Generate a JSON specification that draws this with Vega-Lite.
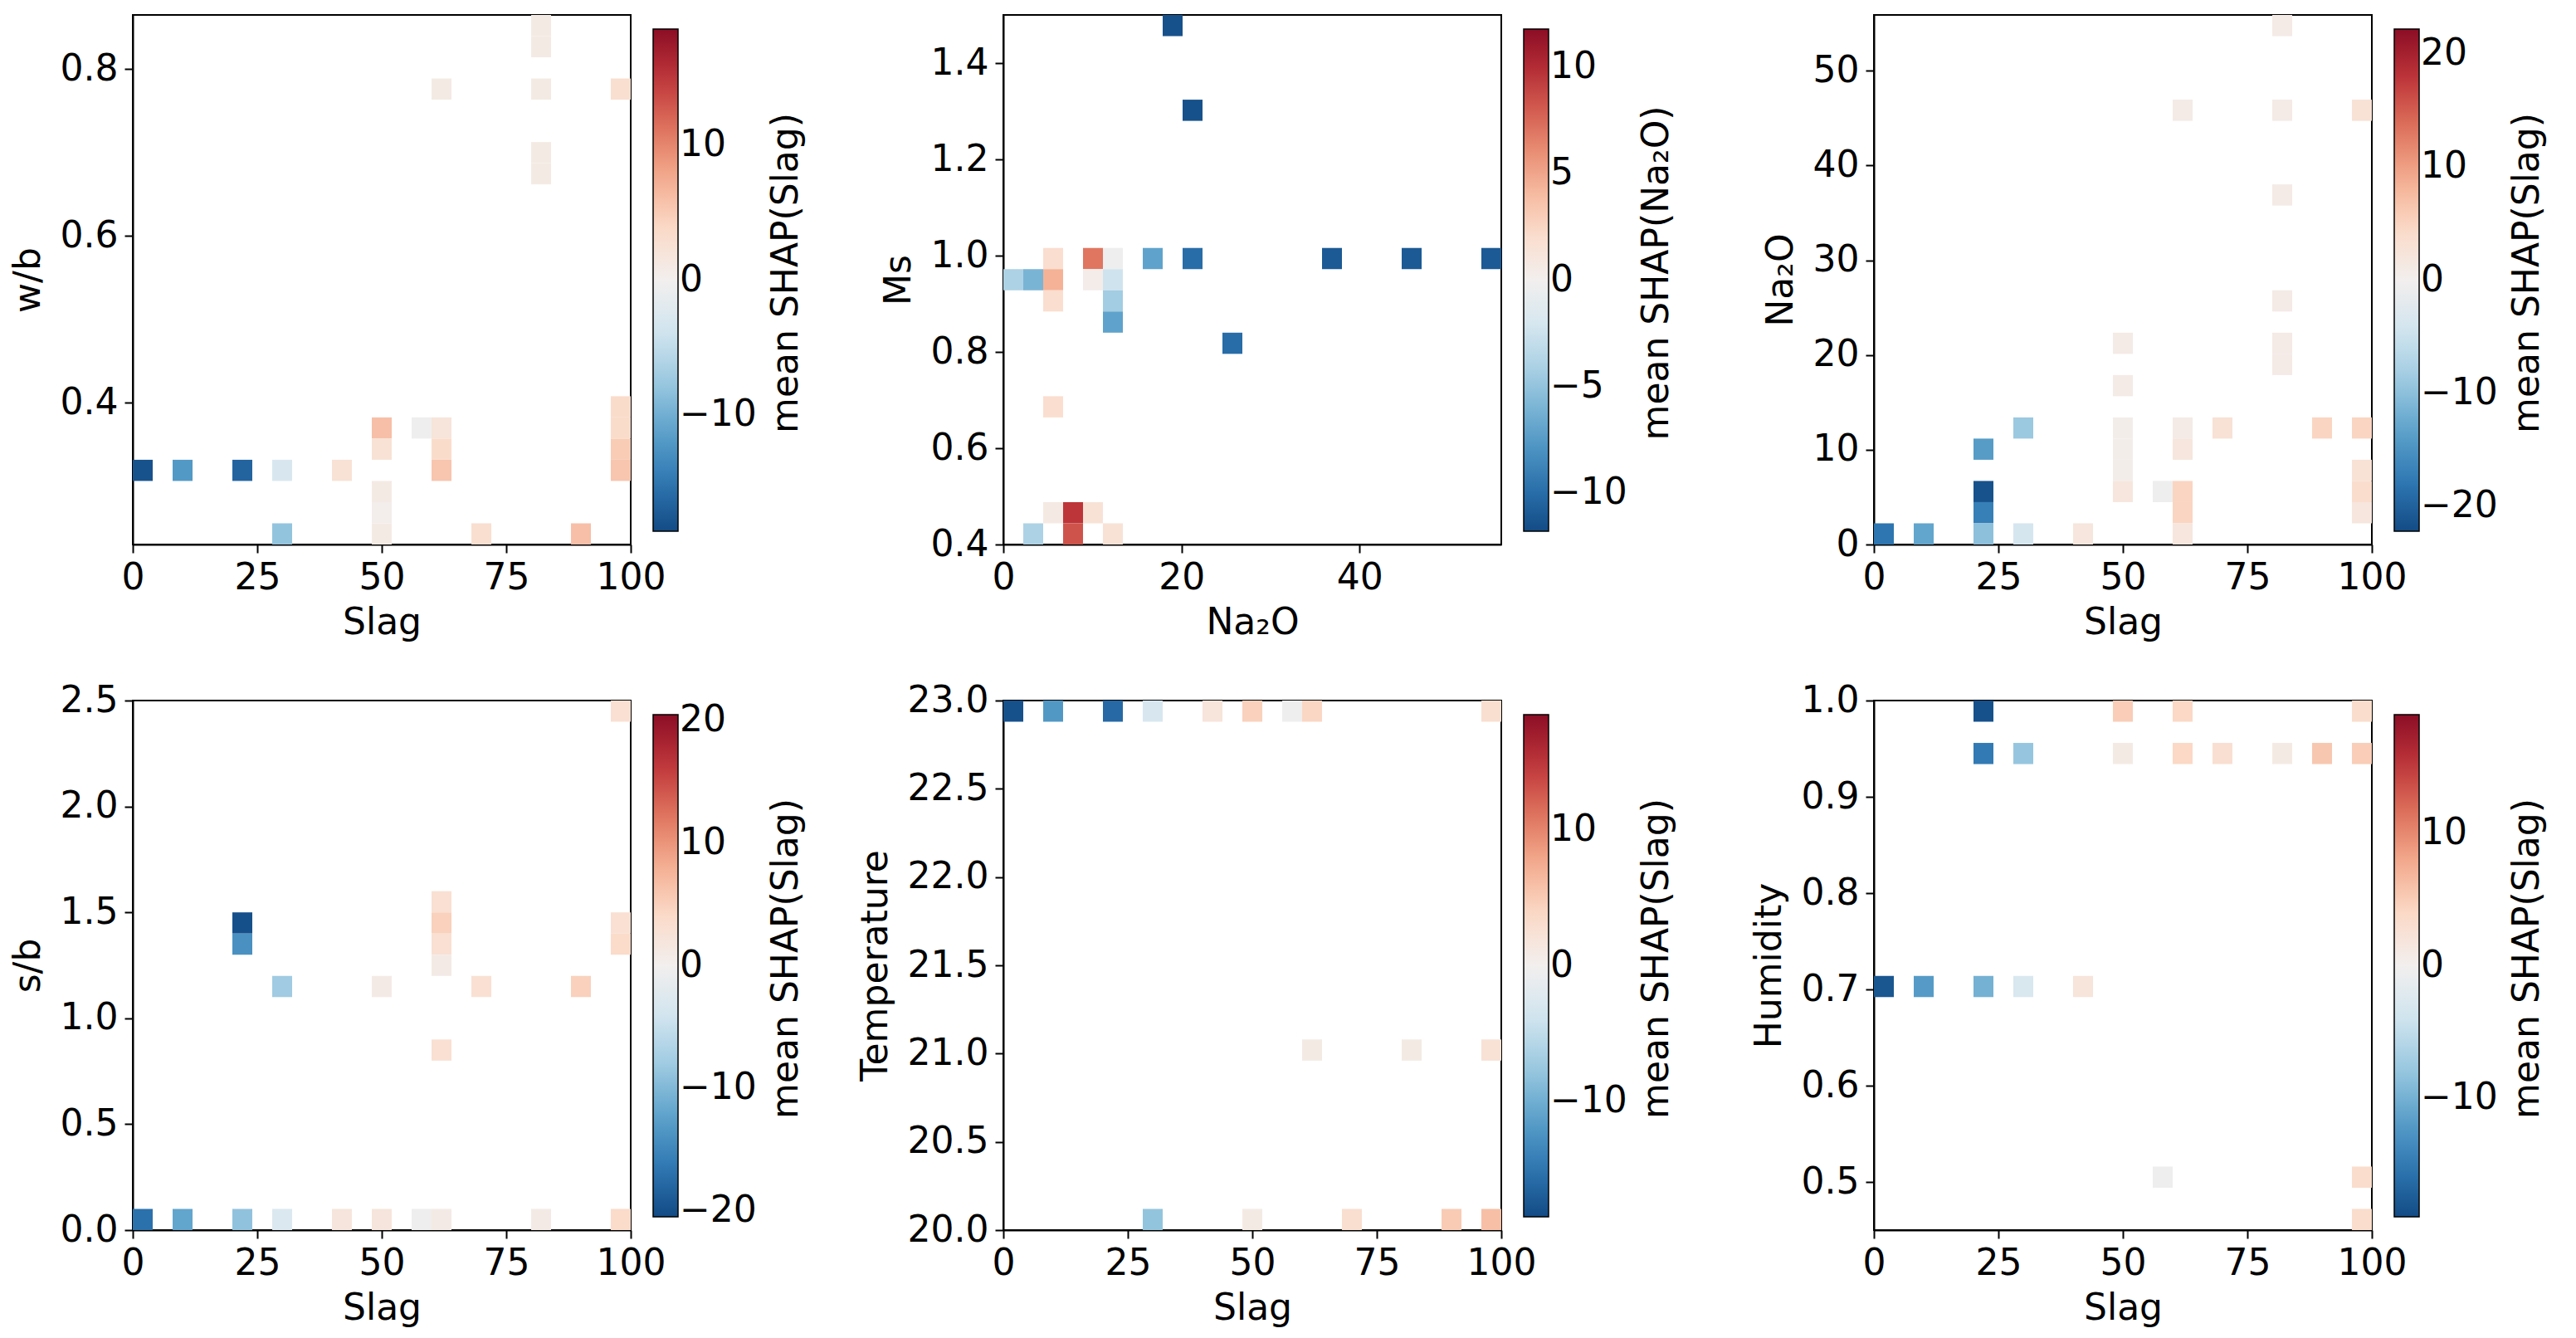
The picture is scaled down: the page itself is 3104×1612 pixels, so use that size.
{
  "$schema": "https://vega.github.io/schema/vega-lite/v6.json",
  "padding": {"left": 11, "top": 17, "right": 10, "bottom": 5},
  "background": "white",
  "bounds": "flush",
  "columns": 3,
  "spacing": {"row": 188, "column": 449},
  "resolve": {"scale": {"color": "independent"}, "legend": {"color": "independent"}},
  "data": {
    "values": [
      {"p": "wb", "x": 0, "x2": 4, "y": 0.3062, "y2": 0.3316, "v": -18},
      {"p": "wb", "x": 8, "x2": 12, "y": 0.3062, "y2": 0.3316, "v": -12},
      {"p": "wb", "x": 20, "x2": 24, "y": 0.3062, "y2": 0.3316, "v": -16.5},
      {"p": "wb", "x": 28, "x2": 32, "y": 0.3062, "y2": 0.3316, "v": -3},
      {"p": "wb", "x": 40, "x2": 44, "y": 0.3062, "y2": 0.3316, "v": 2.5},
      {"p": "wb", "x": 60, "x2": 64, "y": 0.3062, "y2": 0.3316, "v": 5.5},
      {"p": "wb", "x": 96, "x2": 100, "y": 0.3062, "y2": 0.3316, "v": 5.5},
      {"p": "wb", "x": 96, "x2": 100, "y": 0.3316, "y2": 0.357, "v": 5},
      {"p": "wb", "x": 96, "x2": 100, "y": 0.357, "y2": 0.3824, "v": 3.5},
      {"p": "wb", "x": 96, "x2": 100, "y": 0.3824, "y2": 0.4078, "v": 3.5},
      {"p": "wb", "x": 48, "x2": 52, "y": 0.357, "y2": 0.3824, "v": 6},
      {"p": "wb", "x": 48, "x2": 52, "y": 0.3316, "y2": 0.357, "v": 2.5},
      {"p": "wb", "x": 48, "x2": 52, "y": 0.2808, "y2": 0.3062, "v": 1},
      {"p": "wb", "x": 48, "x2": 52, "y": 0.2554, "y2": 0.2808, "v": 0.3},
      {"p": "wb", "x": 48, "x2": 52, "y": 0.23, "y2": 0.2554, "v": 1},
      {"p": "wb", "x": 56, "x2": 60, "y": 0.357, "y2": 0.3824, "v": -0.5},
      {"p": "wb", "x": 60, "x2": 64, "y": 0.357, "y2": 0.3824, "v": 2},
      {"p": "wb", "x": 60, "x2": 64, "y": 0.3316, "y2": 0.357, "v": 3.5},
      {"p": "wb", "x": 28, "x2": 32, "y": 0.23, "y2": 0.2554, "v": -8},
      {"p": "wb", "x": 68, "x2": 72, "y": 0.23, "y2": 0.2554, "v": 3},
      {"p": "wb", "x": 88, "x2": 92, "y": 0.23, "y2": 0.2554, "v": 6},
      {"p": "wb", "x": 80, "x2": 84, "y": 0.8396, "y2": 0.865, "v": 1},
      {"p": "wb", "x": 80, "x2": 84, "y": 0.8142, "y2": 0.8396, "v": 1},
      {"p": "wb", "x": 60, "x2": 64, "y": 0.7634, "y2": 0.7888, "v": 1},
      {"p": "wb", "x": 80, "x2": 84, "y": 0.7634, "y2": 0.7888, "v": 1},
      {"p": "wb", "x": 96, "x2": 100, "y": 0.7634, "y2": 0.7888, "v": 3},
      {"p": "wb", "x": 80, "x2": 84, "y": 0.6872, "y2": 0.7126, "v": 1},
      {"p": "wb", "x": 80, "x2": 84, "y": 0.6618, "y2": 0.6872, "v": 1},

      {"p": "ms", "x": 17.888, "x2": 20.124, "y": 1.456, "y2": 1.5, "v": -11.5},
      {"p": "ms", "x": 20.124, "x2": 22.36, "y": 1.28, "y2": 1.324, "v": -11.5},
      {"p": "ms", "x": 4.472, "x2": 6.708, "y": 0.972, "y2": 1.016, "v": 2},
      {"p": "ms", "x": 8.944, "x2": 11.18, "y": 0.972, "y2": 1.016, "v": 7},
      {"p": "ms", "x": 11.18, "x2": 13.416, "y": 0.972, "y2": 1.016, "v": -0.3},
      {"p": "ms", "x": 15.652, "x2": 17.888, "y": 0.972, "y2": 1.016, "v": -7},
      {"p": "ms", "x": 20.124, "x2": 22.36, "y": 0.972, "y2": 1.016, "v": -10},
      {"p": "ms", "x": 35.776, "x2": 38.012, "y": 0.972, "y2": 1.016, "v": -11},
      {"p": "ms", "x": 44.72, "x2": 46.956, "y": 0.972, "y2": 1.016, "v": -11},
      {"p": "ms", "x": 53.664, "x2": 55.9, "y": 0.972, "y2": 1.016, "v": -11},
      {"p": "ms", "x": 0, "x2": 2.236, "y": 0.928, "y2": 0.972, "v": -4},
      {"p": "ms", "x": 2.236, "x2": 4.472, "y": 0.928, "y2": 0.972, "v": -6},
      {"p": "ms", "x": 4.472, "x2": 6.708, "y": 0.928, "y2": 0.972, "v": 4.5},
      {"p": "ms", "x": 8.944, "x2": 11.18, "y": 0.928, "y2": 0.972, "v": 0.3},
      {"p": "ms", "x": 11.18, "x2": 13.416, "y": 0.928, "y2": 0.972, "v": -2.5},
      {"p": "ms", "x": 4.472, "x2": 6.708, "y": 0.884, "y2": 0.928, "v": 2},
      {"p": "ms", "x": 11.18, "x2": 13.416, "y": 0.884, "y2": 0.928, "v": -4.5},
      {"p": "ms", "x": 11.18, "x2": 13.416, "y": 0.84, "y2": 0.884, "v": -7},
      {"p": "ms", "x": 24.596, "x2": 26.832, "y": 0.796, "y2": 0.84, "v": -10},
      {"p": "ms", "x": 4.472, "x2": 6.708, "y": 0.664, "y2": 0.708, "v": 2},
      {"p": "ms", "x": 4.472, "x2": 6.708, "y": 0.444, "y2": 0.488, "v": 0.7},
      {"p": "ms", "x": 6.708, "x2": 8.944, "y": 0.444, "y2": 0.488, "v": 9.5},
      {"p": "ms", "x": 8.944, "x2": 11.18, "y": 0.444, "y2": 0.488, "v": 1.5},
      {"p": "ms", "x": 2.236, "x2": 4.472, "y": 0.4, "y2": 0.444, "v": -4},
      {"p": "ms", "x": 6.708, "x2": 8.944, "y": 0.4, "y2": 0.444, "v": 8.3},
      {"p": "ms", "x": 11.18, "x2": 13.416, "y": 0.4, "y2": 0.444, "v": 1.5},

      {"p": "na", "x": 80, "x2": 84, "y": 53.664, "y2": 55.9, "v": 1},
      {"p": "na", "x": 60, "x2": 64, "y": 44.72, "y2": 46.956, "v": 1},
      {"p": "na", "x": 80, "x2": 84, "y": 44.72, "y2": 46.956, "v": 1},
      {"p": "na", "x": 96, "x2": 100, "y": 44.72, "y2": 46.956, "v": 3},
      {"p": "na", "x": 80, "x2": 84, "y": 35.776, "y2": 38.012, "v": 1},
      {"p": "na", "x": 80, "x2": 84, "y": 24.596, "y2": 26.832, "v": 1},
      {"p": "na", "x": 80, "x2": 84, "y": 20.124, "y2": 22.36, "v": 1},
      {"p": "na", "x": 48, "x2": 52, "y": 20.124, "y2": 22.36, "v": 1},
      {"p": "na", "x": 80, "x2": 84, "y": 17.888, "y2": 20.124, "v": 1},
      {"p": "na", "x": 48, "x2": 52, "y": 15.652, "y2": 17.888, "v": 1},
      {"p": "na", "x": 28, "x2": 32, "y": 11.18, "y2": 13.416, "v": -9},
      {"p": "na", "x": 48, "x2": 52, "y": 11.18, "y2": 13.416, "v": 0.5},
      {"p": "na", "x": 60, "x2": 64, "y": 11.18, "y2": 13.416, "v": 1},
      {"p": "na", "x": 68, "x2": 72, "y": 11.18, "y2": 13.416, "v": 3},
      {"p": "na", "x": 88, "x2": 92, "y": 11.18, "y2": 13.416, "v": 5},
      {"p": "na", "x": 96, "x2": 100, "y": 11.18, "y2": 13.416, "v": 5},
      {"p": "na", "x": 20, "x2": 24, "y": 8.944, "y2": 11.18, "v": -14},
      {"p": "na", "x": 48, "x2": 52, "y": 8.944, "y2": 11.18, "v": 0.5},
      {"p": "na", "x": 60, "x2": 64, "y": 8.944, "y2": 11.18, "v": 2},
      {"p": "na", "x": 48, "x2": 52, "y": 6.708, "y2": 8.944, "v": 0.5},
      {"p": "na", "x": 96, "x2": 100, "y": 6.708, "y2": 8.944, "v": 3},
      {"p": "na", "x": 20, "x2": 24, "y": 4.472, "y2": 6.708, "v": -21.5},
      {"p": "na", "x": 48, "x2": 52, "y": 4.472, "y2": 6.708, "v": 2},
      {"p": "na", "x": 56, "x2": 60, "y": 4.472, "y2": 6.708, "v": -0.5},
      {"p": "na", "x": 60, "x2": 64, "y": 4.472, "y2": 6.708, "v": 5},
      {"p": "na", "x": 96, "x2": 100, "y": 4.472, "y2": 6.708, "v": 4},
      {"p": "na", "x": 20, "x2": 24, "y": 2.236, "y2": 4.472, "v": -17},
      {"p": "na", "x": 60, "x2": 64, "y": 2.236, "y2": 4.472, "v": 5},
      {"p": "na", "x": 96, "x2": 100, "y": 2.236, "y2": 4.472, "v": 2},
      {"p": "na", "x": 0, "x2": 4, "y": 0, "y2": 2.236, "v": -18},
      {"p": "na", "x": 8, "x2": 12, "y": 0, "y2": 2.236, "v": -13},
      {"p": "na", "x": 20, "x2": 24, "y": 0, "y2": 2.236, "v": -10},
      {"p": "na", "x": 28, "x2": 32, "y": 0, "y2": 2.236, "v": -4},
      {"p": "na", "x": 40, "x2": 44, "y": 0, "y2": 2.236, "v": 2},
      {"p": "na", "x": 60, "x2": 64, "y": 0, "y2": 2.236, "v": 2},

      {"p": "sb", "x": 96, "x2": 100, "y": 2.4, "y2": 2.5, "v": 3},
      {"p": "sb", "x": 20, "x2": 24, "y": 1.4, "y2": 1.5, "v": -20},
      {"p": "sb", "x": 60, "x2": 64, "y": 1.4, "y2": 1.5, "v": 5},
      {"p": "sb", "x": 96, "x2": 100, "y": 1.4, "y2": 1.5, "v": 3},
      {"p": "sb", "x": 20, "x2": 24, "y": 1.3, "y2": 1.4, "v": -14},
      {"p": "sb", "x": 60, "x2": 64, "y": 1.3, "y2": 1.4, "v": 3},
      {"p": "sb", "x": 96, "x2": 100, "y": 1.3, "y2": 1.4, "v": 4},
      {"p": "sb", "x": 60, "x2": 64, "y": 1.5, "y2": 1.6, "v": 3},
      {"p": "sb", "x": 60, "x2": 64, "y": 1.2, "y2": 1.3, "v": 1},
      {"p": "sb", "x": 60, "x2": 64, "y": 0.8, "y2": 0.9, "v": 3},
      {"p": "sb", "x": 28, "x2": 32, "y": 1.1, "y2": 1.2, "v": -8},
      {"p": "sb", "x": 48, "x2": 52, "y": 1.1, "y2": 1.2, "v": 1},
      {"p": "sb", "x": 68, "x2": 72, "y": 1.1, "y2": 1.2, "v": 3},
      {"p": "sb", "x": 88, "x2": 92, "y": 1.1, "y2": 1.2, "v": 5},
      {"p": "sb", "x": 0, "x2": 4, "y": 0, "y2": 0.1, "v": -17},
      {"p": "sb", "x": 8, "x2": 12, "y": 0, "y2": 0.1, "v": -12},
      {"p": "sb", "x": 20, "x2": 24, "y": 0, "y2": 0.1, "v": -9},
      {"p": "sb", "x": 28, "x2": 32, "y": 0, "y2": 0.1, "v": -3},
      {"p": "sb", "x": 40, "x2": 44, "y": 0, "y2": 0.1, "v": 2},
      {"p": "sb", "x": 48, "x2": 52, "y": 0, "y2": 0.1, "v": 2},
      {"p": "sb", "x": 56, "x2": 60, "y": 0, "y2": 0.1, "v": -0.5},
      {"p": "sb", "x": 60, "x2": 64, "y": 0, "y2": 0.1, "v": 1},
      {"p": "sb", "x": 80, "x2": 84, "y": 0, "y2": 0.1, "v": 1},
      {"p": "sb", "x": 96, "x2": 100, "y": 0, "y2": 0.1, "v": 4},

      {"p": "t", "x": 0, "x2": 4, "y": 22.88, "y2": 23, "v": -18},
      {"p": "t", "x": 8, "x2": 12, "y": 22.88, "y2": 23, "v": -12},
      {"p": "t", "x": 20, "x2": 24, "y": 22.88, "y2": 23, "v": -16},
      {"p": "t", "x": 28, "x2": 32, "y": 22.88, "y2": 23, "v": -3},
      {"p": "t", "x": 40, "x2": 44, "y": 22.88, "y2": 23, "v": 2},
      {"p": "t", "x": 48, "x2": 52, "y": 22.88, "y2": 23, "v": 4.5},
      {"p": "t", "x": 56, "x2": 60, "y": 22.88, "y2": 23, "v": -0.5},
      {"p": "t", "x": 60, "x2": 64, "y": 22.88, "y2": 23, "v": 4},
      {"p": "t", "x": 96, "x2": 100, "y": 22.88, "y2": 23, "v": 3},
      {"p": "t", "x": 60, "x2": 64, "y": 20.96, "y2": 21.08, "v": 1},
      {"p": "t", "x": 80, "x2": 84, "y": 20.96, "y2": 21.08, "v": 1},
      {"p": "t", "x": 96, "x2": 100, "y": 20.96, "y2": 21.08, "v": 2.5},
      {"p": "t", "x": 28, "x2": 32, "y": 20, "y2": 20.12, "v": -8},
      {"p": "t", "x": 48, "x2": 52, "y": 20, "y2": 20.12, "v": 1},
      {"p": "t", "x": 68, "x2": 72, "y": 20, "y2": 20.12, "v": 3},
      {"p": "t", "x": 88, "x2": 92, "y": 20, "y2": 20.12, "v": 5},
      {"p": "t", "x": 96, "x2": 100, "y": 20, "y2": 20.12, "v": 6},

      {"p": "h", "x": 20, "x2": 24, "y": 0.978, "y2": 1.0, "v": -18.5},
      {"p": "h", "x": 48, "x2": 52, "y": 0.978, "y2": 1.0, "v": 5},
      {"p": "h", "x": 60, "x2": 64, "y": 0.978, "y2": 1.0, "v": 4},
      {"p": "h", "x": 96, "x2": 100, "y": 0.978, "y2": 1.0, "v": 3.5},
      {"p": "h", "x": 20, "x2": 24, "y": 0.934, "y2": 0.956, "v": -15},
      {"p": "h", "x": 28, "x2": 32, "y": 0.934, "y2": 0.956, "v": -8},
      {"p": "h", "x": 48, "x2": 52, "y": 0.934, "y2": 0.956, "v": 1},
      {"p": "h", "x": 60, "x2": 64, "y": 0.934, "y2": 0.956, "v": 4},
      {"p": "h", "x": 68, "x2": 72, "y": 0.934, "y2": 0.956, "v": 3},
      {"p": "h", "x": 80, "x2": 84, "y": 0.934, "y2": 0.956, "v": 1},
      {"p": "h", "x": 88, "x2": 92, "y": 0.934, "y2": 0.956, "v": 5.5},
      {"p": "h", "x": 96, "x2": 100, "y": 0.934, "y2": 0.956, "v": 5},
      {"p": "h", "x": 0, "x2": 4, "y": 0.692, "y2": 0.714, "v": -18},
      {"p": "h", "x": 8, "x2": 12, "y": 0.692, "y2": 0.714, "v": -12},
      {"p": "h", "x": 20, "x2": 24, "y": 0.692, "y2": 0.714, "v": -10},
      {"p": "h", "x": 28, "x2": 32, "y": 0.692, "y2": 0.714, "v": -3},
      {"p": "h", "x": 40, "x2": 44, "y": 0.692, "y2": 0.714, "v": 2},
      {"p": "h", "x": 56, "x2": 60, "y": 0.494, "y2": 0.516, "v": -0.5},
      {"p": "h", "x": 96, "x2": 100, "y": 0.494, "y2": 0.516, "v": 3.5},
      {"p": "h", "x": 96, "x2": 100, "y": 0.45, "y2": 0.472, "v": 3.5}
    ]
  },
  "concat": [
    {
      "width": 600, "height": 638,
      "transform": [{"filter": "datum.p == 'wb'"}],
      "mark": "rect",
      "encoding": {
        "x": {"field": "x", "type": "quantitative", "scale": {"domain": [0, 100], "nice": false, "zero": false}, "axis": {"title": "Slag", "values": [0, 25, 50, 75, 100]}},
        "x2": {"field": "x2"},
        "y": {"field": "y", "type": "quantitative", "scale": {"domain": [0.23, 0.865], "nice": false, "zero": false}, "axis": {"title": "w/b", "values": [0.4, 0.6, 0.8], "format": ".1f"}},
        "y2": {"field": "y2"},
        "color": {"field": "v", "type": "quantitative", "scale": {"scheme": "redblue", "reverse": true, "domain": [-18.6, 18.6]}, "legend": {"title": "mean SHAP(Slag)", "values": [-10, 0, 10], "encode": {"title": {"update": {"angle": {"value": 270}, "baseline": {"value": "top"}}}}}}
      }
    },
    {
      "width": 600, "height": 638,
      "transform": [{"filter": "datum.p == 'ms'"}],
      "mark": "rect",
      "encoding": {
        "x": {"field": "x", "type": "quantitative", "scale": {"domain": [0, 55.9], "nice": false, "zero": false}, "axis": {"title": "Na₂O", "values": [0, 20, 40]}},
        "x2": {"field": "x2"},
        "y": {"field": "y", "type": "quantitative", "scale": {"domain": [0.4, 1.5], "nice": false, "zero": false}, "axis": {"title": "Ms", "values": [0.4, 0.6, 0.8, 1.0, 1.2, 1.4], "format": ".1f"}},
        "y2": {"field": "y2"},
        "color": {"field": "v", "type": "quantitative", "scale": {"scheme": "redblue", "reverse": true, "domain": [-11.8, 11.8]}, "legend": {"title": "mean SHAP(Na₂O)", "values": [-10, -5, 0, 5, 10], "encode": {"title": {"update": {"angle": {"value": 270}, "baseline": {"value": "top"}}}}}}
      }
    },
    {
      "width": 600, "height": 638,
      "transform": [{"filter": "datum.p == 'na'"}],
      "mark": "rect",
      "encoding": {
        "x": {"field": "x", "type": "quantitative", "scale": {"domain": [0, 100], "nice": false, "zero": false}, "axis": {"title": "Slag", "values": [0, 25, 50, 75, 100]}},
        "x2": {"field": "x2"},
        "y": {"field": "y", "type": "quantitative", "scale": {"domain": [0, 55.9], "nice": false, "zero": false}, "axis": {"title": "Na₂O", "values": [0, 10, 20, 30, 40, 50]}},
        "y2": {"field": "y2"},
        "color": {"field": "v", "type": "quantitative", "scale": {"scheme": "redblue", "reverse": true, "domain": [-22.2, 22.2]}, "legend": {"title": "mean SHAP(Slag)", "values": [-20, -10, 0, 10, 20], "encode": {"title": {"update": {"angle": {"value": 270}, "baseline": {"value": "top"}}}}}}
      }
    },
    {
      "width": 600, "height": 638,
      "transform": [{"filter": "datum.p == 'sb'"}],
      "mark": "rect",
      "encoding": {
        "x": {"field": "x", "type": "quantitative", "scale": {"domain": [0, 100], "nice": false, "zero": false}, "axis": {"title": "Slag", "values": [0, 25, 50, 75, 100]}},
        "x2": {"field": "x2"},
        "y": {"field": "y", "type": "quantitative", "scale": {"domain": [0, 2.5], "nice": false, "zero": false}, "axis": {"title": "s/b", "values": [0, 0.5, 1, 1.5, 2, 2.5], "format": ".1f"}},
        "y2": {"field": "y2"},
        "color": {"field": "v", "type": "quantitative", "scale": {"scheme": "redblue", "reverse": true, "domain": [-20.5, 20.5]}, "legend": {"title": "mean SHAP(Slag)", "values": [-20, -10, 0, 10, 20], "encode": {"title": {"update": {"angle": {"value": 270}, "baseline": {"value": "top"}}}}}}
      }
    },
    {
      "width": 600, "height": 638,
      "transform": [{"filter": "datum.p == 't'"}],
      "mark": "rect",
      "encoding": {
        "x": {"field": "x", "type": "quantitative", "scale": {"domain": [0, 100], "nice": false, "zero": false}, "axis": {"title": "Slag", "values": [0, 25, 50, 75, 100]}},
        "x2": {"field": "x2"},
        "y": {"field": "y", "type": "quantitative", "scale": {"domain": [20, 23], "nice": false, "zero": false}, "axis": {"title": "Temperature", "values": [20, 20.5, 21, 21.5, 22, 22.5, 23], "format": ".1f"}},
        "y2": {"field": "y2"},
        "color": {"field": "v", "type": "quantitative", "scale": {"scheme": "redblue", "reverse": true, "domain": [-18.5, 18.5]}, "legend": {"title": "mean SHAP(Slag)", "values": [-10, 0, 10], "encode": {"title": {"update": {"angle": {"value": 270}, "baseline": {"value": "top"}}}}}}
      }
    },
    {
      "width": 600, "height": 638,
      "transform": [{"filter": "datum.p == 'h'"}],
      "mark": "rect",
      "encoding": {
        "x": {"field": "x", "type": "quantitative", "scale": {"domain": [0, 100], "nice": false, "zero": false}, "axis": {"title": "Slag", "values": [0, 25, 50, 75, 100]}},
        "x2": {"field": "x2"},
        "y": {"field": "y", "type": "quantitative", "scale": {"domain": [0.45, 1.0], "nice": false, "zero": false}, "axis": {"title": "Humidity", "values": [0.5, 0.6, 0.7, 0.8, 0.9, 1.0], "format": ".1f"}},
        "y2": {"field": "y2"},
        "color": {"field": "v", "type": "quantitative", "scale": {"scheme": "redblue", "reverse": true, "domain": [-19, 19]}, "legend": {"title": "mean SHAP(Slag)", "values": [-10, 0, 10], "encode": {"title": {"update": {"angle": {"value": 270}, "baseline": {"value": "top"}}}}}}
      }
    }
  ],
  "config": {
    "font": "DejaVu Sans",
    "view": {"stroke": "black", "strokeWidth": 2},
    "axis": {
      "grid": false,
      "labelFontSize": 44,
      "titleFontSize": 44,
      "titleFontWeight": "normal",
      "labelColor": "black",
      "titleColor": "black",
      "tickColor": "black",
      "tickSize": 10,
      "tickWidth": 2,
      "domainColor": "black",
      "domainWidth": 2,
      "labelPadding": 8,
      "labelFlush": false,
      "labelOverlap": false
    },
    "axisX": {"titlePadding": 10},
    "axisY": {"titlePadding": 16},
    "legend": {
      "gradientLength": 605,
      "gradientThickness": 30,
      "gradientStrokeColor": "black",
      "gradientStrokeWidth": 1.5,
      "labelFontSize": 44,
      "labelColor": "black",
      "labelOffset": 30,
      "titleFontSize": 44,
      "titleFontWeight": "normal",
      "titleColor": "black",
      "titleLimit": 1000,
      "titleOrient": "right",
      "titleAnchor": "middle",
      "titlePadding": 14,
      "offset": 10,
      "padding": 17
    }
  }
}
